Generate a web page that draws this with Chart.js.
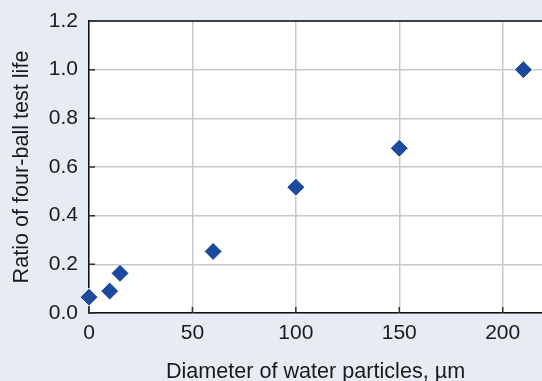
<!DOCTYPE html>
<html>
<head>
<meta charset="utf-8">
<script src="https://cdn.jsdelivr.net/npm/chart.js@4/dist/chart.umd.min.js"></script>
<style>
  html, body { margin: 0; padding: 0; background: #e7ebf4; }
  #wrap { width: 542px; height: 381px; }
</style>
</head>
<body>
<div id="wrap"><canvas id="chart"></canvas></div>
<script>
const diameters = [0, 10, 15, 60, 100, 150, 210]
const lifeRatios = [0.065, 0.09, 0.163, 0.253, 0.517, 0.677, 1.0]
const xTicks = [0, 50, 100, 150, 200]
const yTicks = [0.0, 0.2, 0.4, 0.6, 0.8, 1.0, 1.2]

const points = diameters.map((d, i) => ({ x: d, y: lifeRatios[i] }))

// frame top line and the short inward tick marks
const framePlugin = {
  id: 'frame',
  afterDraw(chart) {
    const { ctx, chartArea: a, scales } = chart
    ctx.save()
    ctx.strokeStyle = '#111'
    ctx.lineWidth = 1.5
    ctx.beginPath()
    ctx.moveTo(a.left, a.top)
    ctx.lineTo(a.right, a.top)
    ctx.stroke()
    ctx.strokeStyle = '#333'
    ctx.beginPath()
    yTicks.forEach(v => {
      const y = scales.y.getPixelForValue(v)
      ctx.moveTo(a.left, y)
      ctx.lineTo(a.left + 6, y)
    })
    xTicks.forEach(v => {
      const x = scales.x.getPixelForValue(v)
      ctx.moveTo(x, a.bottom)
      ctx.lineTo(x, a.bottom - 6)
    })
    ctx.stroke()
    ctx.restore()
  }
}

const bgPlugin = {
  id: 'plotBg',
  beforeDraw(chart) {
    const { ctx, chartArea: a } = chart
    ctx.save()
    ctx.fillStyle = '#ffffff'
    ctx.fillRect(a.left, a.top, a.right - a.left, a.bottom - a.top)
    ctx.restore()
  }
}

const font = { family: "'Liberation Sans', Arial, sans-serif", size: 21 }
const titleFont = { family: "'Liberation Sans', Arial, sans-serif", size: 21.6, lineHeight: 1 }

new Chart(document.getElementById('chart'), {
  type: 'scatter',
  data: {
    datasets: [{
      data: points,
      pointStyle: 'rectRot',
      pointRadius: 9,
      pointHoverRadius: 9,
      backgroundColor: '#1c4a9c',
      borderColor: '#ffffff',
      borderWidth: 1,
      clip: false
    }]
  },
  options: {
    responsive: true,
    maintainAspectRatio: false,
    animation: false,
    layout: { autoPadding: false, padding: { top: 21, right: 0, left: 0, bottom: 0 } },
    plugins: {
      legend: { display: false },
      tooltip: { enabled: false }
    },
    scales: {
      x: {
        type: 'linear',
        min: 0,
        max: 219,
        afterFit(scale) {
          scale.height = 68
          scale.paddingLeft = 0
          scale.paddingRight = 0
        },
        grid: { color: '#c8c8c8', lineWidth: 1.5, drawTicks: false },
        border: { color: '#111', width: 1.5 },
        ticks: {
          stepSize: 50,
          includeBounds: false,
          padding: 8,
          color: '#1a1a1a',
          font: font
        },
        title: {
          display: true,
          text: 'Diameter of water particles, µm',
          color: '#1a1a1a',
          font: titleFont,
          padding: { top: 0, bottom: -2 }
        }
      },
      y: {
        min: 0,
        max: 1.2,
        afterFit(scale) {
          scale.width = 89
          scale.paddingTop = 0
          scale.paddingBottom = 0
        },
        grid: { color: '#c8c8c8', lineWidth: 1.5, drawTicks: false },
        border: { color: '#111', width: 1.5 },
        ticks: {
          stepSize: 0.2,
          padding: 11,
          color: '#1a1a1a',
          font: font,
          callback: v => v.toFixed(1)
        },
        title: {
          display: true,
          text: 'Ratio of four-ball test life',
          color: '#1a1a1a',
          font: titleFont,
          padding: { top: 11, bottom: 0 }
        }
      }
    }
  },
  plugins: [bgPlugin, framePlugin]
})
</script>
</body>
</html>
